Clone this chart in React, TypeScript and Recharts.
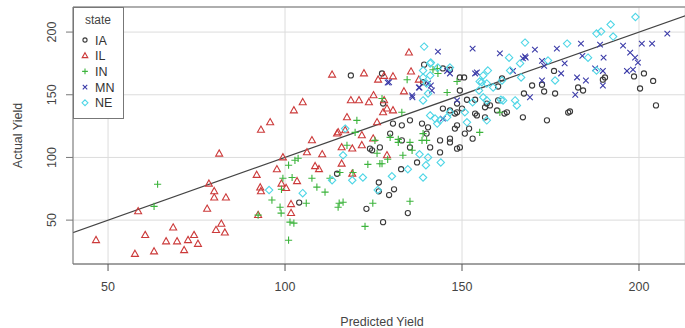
import {
  CartesianGrid,
  Legend,
  ReferenceLine,
  Scatter,
  ScatterChart,
  XAxis,
  YAxis,
} from "recharts";

type Pt = [number, number];

// predicted yield, actual yield
const iaPoints: Pt[] = [
  [104, 64], [114.7, 87], [123, 59], [126.5, 80], [126.5, 73], [127.7, 48.4], [129.4, 70], [130.8, 74.6],
  [132.8, 90.6], [134.7, 55.6], [137.3, 96], [143.8, 104], [124.6, 105.7], [126.8, 108], [129.7, 119],
  [146.6, 112], [124, 107], [148.6, 107], [118.6, 165.4], [127.4, 167], [139.3, 174], [144.6, 171],
  [146.6, 170], [149.4, 163.8], [139, 160], [127.7, 143], [135.3, 129.6], [130.5, 127], [133, 125.6],
  [138.7, 127], [140.4, 124], [140, 119], [144.6, 139], [146.6, 137.5], [148.6, 136], [150, 139],
  [153.7, 135], [154.2, 133.5], [156.5, 140], [157, 143], [159.9, 137.5], [162.7, 136], [148, 123],
  [146.6, 115], [150.8, 119], [152, 123], [153, 115], [149.4, 108], [143.8, 113.6], [141, 108],
  [133, 113.6], [135.3, 108], [150.6, 163.8], [149.4, 153.4], [151.4, 146], [153.7, 146], [157.9, 141.5],
  [160.2, 145.5], [161.3, 163], [160.2, 156.6], [167.5, 151], [169.8, 157.4], [172.6, 158], [173.2, 152.6],
  [176.3, 151], [176, 169], [167.2, 132], [174, 129.6], [180.5, 136.7], [182.8, 155.8], [184.2, 153.4],
  [189.8, 162], [190.4, 163.8], [200.3, 155], [204, 161], [204.8, 141.5], [156.5, 132], [148.6, 125.6],
  [148, 135], [148.6, 143], [162, 135], [180, 135.8], [198.6, 164.6], [201.4, 167],
];

const ilPoints: Pt[] = [
  [46.6, 34], [57.6, 23], [58.5, 57], [60.5, 38], [63, 25], [66.4, 33], [68.4, 44], [69.5, 33],
  [71.5, 26], [72.6, 34], [74.3, 38], [75.4, 31], [78, 59], [78.5, 79], [80, 73], [80, 68], [80.5, 42],
  [81.4, 103], [82, 47], [83, 40], [83.3, 68], [92, 86], [93, 76], [93.2, 73], [92.4, 54], [93.2, 122],
  [95.8, 128], [97.7, 90.5], [99, 79], [100.3, 75.5], [99.4, 100], [101.7, 62.7], [101.7, 55.6],
  [103.4, 81], [102.5, 137.5], [105, 144], [106.2, 104], [110.5, 102.5], [108.5, 93], [109.6, 90.6],
  [107.6, 113.6], [113.3, 166], [115, 120], [116, 108], [114.7, 119], [116, 95], [119, 87], [119, 107],
  [121.7, 117.6], [117, 121.6], [117.5, 132], [118.6, 145.5], [120.9, 145.5], [123.7, 144], [122.3, 167],
  [124.9, 115], [121.7, 109.7], [125, 149.5], [126.3, 162], [128, 165], [130.5, 164.6], [128, 145.5],
  [128.8, 139], [130.5, 137.5], [127.7, 136], [126, 128], [128.8, 101.7], [133.6, 152.6], [135, 183.6],
  [135.6, 168.5], [137.8, 162],
];

const inPoints: Pt[] = [
  [64, 78.6], [63, 61], [96.3, 66], [98.6, 60.3], [98.9, 55.6], [101.4, 48.4], [101, 34], [102.5, 47.6],
  [99, 74.6], [99.4, 83.4], [101, 93.8], [107.6, 83.4], [109, 76.3], [111.3, 72.3], [106, 63.5],
  [112.7, 83.4], [115.3, 63.5], [115, 60.3], [115.5, 88], [119.2, 88], [123.4, 94.5], [124.8, 63.5],
  [122.6, 45], [127.4, 95], [133.3, 101.7], [135.3, 65], [132, 112], [135.9, 105.7], [140, 113.6],
  [126, 103.3], [102.8, 97.7], [126.8, 95], [129, 98.5], [116.4, 64.3], [120.3, 129.6],
  [119.8, 120], [129.7, 116], [132, 114.4], [135.3, 112], [127.4, 147], [134.5, 162], [133, 136],
  [145.8, 151.8], [148.6, 160.6], [143.2, 167], [143, 171], [155, 120], [139, 119], [138.7, 113.6],
  [125.4, 113.6], [117.5, 109.7], [141.8, 170], [160.7, 136], [92.4, 54], [103.7, 99.3], [102, 84],
];

const mnPoints: Pt[] = [
  [143.2, 184.4], [153, 186.8], [160.7, 183], [129.4, 160], [137.8, 155.8], [141.2, 157.4], [141.5, 153.4],
  [136, 148], [153.7, 167], [138, 155.8], [135.9, 149.4], [140.4, 159], [129, 159.8], [145.8, 169],
  [146.6, 167], [148.6, 145.5], [144.6, 131], [168, 179.6], [170.6, 186], [176.8, 186.8], [183.6, 190.8],
  [189, 190], [195.5, 189.2], [197.5, 183.6], [198.9, 179.6], [203.7, 190.8], [200.8, 190.8], [208, 198.8],
  [172.6, 177], [173.2, 173], [179, 175], [178, 167], [184, 181], [185, 161.4], [182.5, 163.8],
  [190, 179.6], [189.8, 169], [196.6, 169], [198.3, 170], [199.7, 175.6], [187.6, 171], [189.8, 157.4],
  [182, 150], [169.2, 148], [167.2, 179], [164.4, 169], [154.2, 167.8], [167.8, 180.5], [172.6, 161.4],
];

const nePoints: Pt[] = [
  [139.3, 188.4], [199, 212], [192, 206], [188, 198.8], [189.3, 200.4], [192.7, 196.4], [179.7, 190.8],
  [167.8, 191.6], [163.3, 179.6], [166.4, 175], [163.6, 169.3], [166.7, 163.8], [161, 146], [174.3, 177.3],
  [176.3, 161.4], [188, 169.3], [185.6, 179.6], [157.3, 169.3], [156, 165.4], [157, 159], [154.8, 153.4],
  [155.6, 160], [156, 148], [157, 145.5], [165.5, 141.5], [161.6, 145.5], [151.4, 128], [141, 175],
  [141, 165.4], [139, 169.3], [140, 159], [140.4, 151], [139, 145.5], [141, 133.5], [142.4, 131],
  [143.8, 129.6], [143, 127], [146.6, 136], [145.8, 132], [155, 160.6], [158.8, 155.8], [161.3, 161.4],
  [153, 144], [157, 129.6], [117, 123], [141.2, 175.7], [143.2, 171.7], [146.6, 171.7], [139, 163.8],
  [119, 81.8], [122, 84], [116.4, 101.7], [126.2, 74], [130.2, 85], [134.7, 90.6], [138, 102.5],
  [140.4, 100], [139.8, 93.8], [144, 96], [139, 84], [95.5, 74], [105, 71.5], [113.3, 81.8],
  [150.8, 136], [165, 145.5],
];

const states = ["IA", "IL", "IN", "MN", "NE"];
const ticks = [50, 100, 150, 200];
const fitLine = [{ x: 40, y: 40 }, { x: 215, y: 215 }];

const series = [
  { name: "IA", pts: iaPoints, color: "#3a3a3a", mark: "circle" },
  { name: "IL", pts: ilPoints, color: "#cc3a3a", mark: "triangle" },
  { name: "IN", pts: inPoints, color: "#3cb43c", mark: "plus" },
  { name: "MN", pts: mnPoints, color: "#3b3ba8", mark: "cross" },
  { name: "NE", pts: nePoints, color: "#4fd6e6", mark: "diamond" },
];

const font = '"Liberation Sans", Arial, sans-serif';

function Mark({ cx, cy, mark, color, s = 1 }: any) {
  const p = { fill: "none", stroke: color, strokeWidth: 1.1 };
  if (mark === "circle") return <circle cx={cx} cy={cy} r={2.6 * s} {...p} />;
  if (mark === "triangle") {
    const d = `M${cx},${cy - 3.8 * s}L${cx + 3.5 * s},${cy + 2.4 * s}L${cx - 3.5 * s},${cy + 2.4 * s}Z`;
    return <path d={d} {...p} />;
  }
  if (mark === "plus") {
    const h = 3.6 * s;
    return <path d={`M${cx - h},${cy}H${cx + h}M${cx},${cy - h}V${cy + h}`} {...p} />;
  }
  if (mark === "cross") {
    const h = 2.8 * s;
    return <path d={`M${cx - h},${cy - h}L${cx + h},${cy + h}M${cx - h},${cy + h}L${cx + h},${cy - h}`} {...p} />;
  }
  const h = 3.7 * s;
  return <path d={`M${cx},${cy - h}L${cx + h},${cy}L${cx},${cy + h}L${cx - h},${cy}Z`} {...p} />;
}

function StateLegend() {
  return (
    <svg width={51} height={112} style={{ display: "block" }}>
      <rect x={0.5} y={0.5} width={50} height={111} fill="#fff" stroke="#777" />
      <text x={25} y={17} textAnchor="middle" fontSize={12} fill="#444" fontFamily={font}>
        state
      </text>
      {states.map((s, i) => {
        const cy = 33 + i * 15.7;
        const sr = series[i];
        return (
          <g key={s}>
            <Mark cx={12} cy={cy} mark={sr.mark} color={sr.color} s={0.8} />
            <text x={22} y={cy + 4.5} fontSize={12.5} fill="#333" fontFamily={font}>
              {s}
            </text>
          </g>
        );
      })}
    </svg>
  );
}

function YTick({ x, y, payload }: any) {
  return (
    <text
      x={x}
      y={y}
      transform={`rotate(-90, ${x}, ${y})`}
      textAnchor="middle"
      fontSize={12.5}
      fill="#444"
      fontFamily={font}
    >
      {payload.value}
    </text>
  );
}

export default function App() {
  return (
    <div style={{ position: "absolute", left: 0, top: 0, background: "#fff" }}>
      <ScatterChart width={685} height={328} margin={{ top: 7, right: 0, bottom: 0, left: 0 }}>
        <CartesianGrid stroke="#dcdcdc" strokeWidth={1} />
        <XAxis
          type="number"
          dataKey="x"
          domain={[40.1, 213]}
          ticks={ticks}
          height={64}
          tickSize={7}
          tickMargin={11}
          stroke="#555"
          allowDataOverflow
          tick={{ fill: "#444", fontSize: 12.5, fontFamily: font }}
          label={{
            value: "Predicted Yield",
            position: "insideBottom",
            offset: 2,
            dx: 3,
            fill: "#444",
            fontSize: 12.5,
            fontFamily: font,
          }}
        />
        <YAxis
          type="number"
          dataKey="y"
          domain={[15, 220]}
          ticks={ticks}
          width={73}
          tickSize={7}
          tickMargin={10}
          stroke="#777"
          allowDataOverflow
          tick={<YTick />}
          label={{
            content: ({ viewBox }: any) => {
              const cx = viewBox.x + 19;
              const cy = viewBox.y + viewBox.height / 2;
              return (
                <text
                  x={cx}
                  y={cy}
                  transform={`rotate(-90, ${cx}, ${cy})`}
                  textAnchor="middle"
                  dominantBaseline="middle"
                  fontSize={12.5}
                  fill="#444"
                  fontFamily={font}
                >
                  Actual Yield
                </text>
              );
            },
          }}
        />
        <ReferenceLine y={220} stroke="#999" strokeWidth={1.5} />
        {series.map((sr) => (
          <Scatter
            key={sr.name}
            name={sr.name}
            data={sr.pts.map(([x, y]) => ({ x, y }))}
            isAnimationActive={false}
            shape={(props: any) => <Mark cx={props.cx} cy={props.cy} mark={sr.mark} color={sr.color} />}
          />
        ))}
        <ReferenceLine segment={fitLine} stroke="#444" strokeWidth={1.2} ifOverflow="hidden" />
        <Legend
          layout="vertical"
          align="center"
          verticalAlign="middle"
          content={() => <StateLegend />}
          wrapperStyle={{ left: 73, top: 7, width: 51, height: 112 }}
        />
      </ScatterChart>
    </div>
  );
}
